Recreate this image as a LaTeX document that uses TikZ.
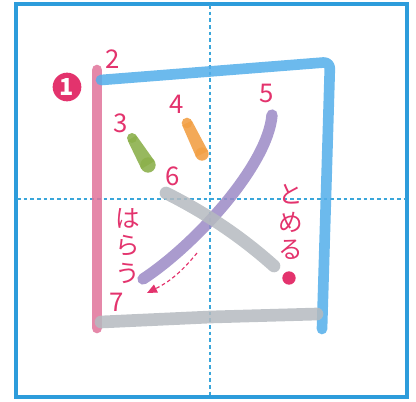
\documentclass[tikz,border=0pt]{standalone}
\usepackage{fontspec}
\setmainfont{Noto Sans CJK JP}
\usetikzlibrary{arrows.meta, calc}
\definecolor{cframe}{HTML}{2D9CDB}
\definecolor{cguide}{HTML}{3AA6DA}
\definecolor{cpink}{HTML}{E3336D}
\definecolor{cone}{HTML}{E0739A}
\definecolor{ctwo}{HTML}{52AEEA}
\definecolor{cgreen}{HTML}{8CB04C}
\definecolor{corange}{HTML}{F2A046}
\definecolor{cpurple}{HTML}{9B8AC6}
\definecolor{cgrey}{HTML}{B5BABF}
\tikzset{
  brush/.style={draw=#1, line width=3.2mm, line cap=round, line join=round, opacity=0.85},
  num/.style={text=cpink, inner sep=0pt, font=\fontsize{22}{22}\selectfont},
  kana/.style={text=cpink, inner sep=0pt, align=center, font=\fontsize{21}{23.5}\selectfont},
  guide/.style={draw=cguide, line width=0.4mm, dash pattern=on 1.1mm off 0.9mm},
}

\begin{document}
\begin{tikzpicture}[x=0.3mm, y=-0.3mm,
  drop/.style={fill=#1, opacity=0.9}]
  \useasboundingbox (0,0) rectangle (416,401);
  % frame and guide lines
  \draw[cframe, line width=1mm] (16,4) rectangle (407,397);
  \draw[guide] (210,5) -- (210,396);
  \draw[guide] (17,199) -- (406,199);
  % strokes
  \draw[brush=cone] (97,70) -- (97,328);
  \draw[brush=ctwo, rounded corners=2mm] (101,80) -- (330,62) -- (322,329);
  \coordinate (g1) at (132,138); \coordinate (g2) at (148,165);
  \fill[drop=cgreen] ($(g1)!1.5mm!90:(g2)$) -- ($(g2)!2.3mm!-90:(g1)$) -- ($(g2)!2.3mm!90:(g1)$) -- ($(g1)!1.5mm!-90:(g2)$) -- cycle;
  \fill[drop=cgreen] (g1) circle (1.5mm) (g2) circle (2.3mm);
  \coordinate (o1) at (187,123); \coordinate (o2) at (202,154);
  \fill[drop=corange] ($(o1)!1.6mm!90:(o2)$) -- ($(o2)!2mm!-90:(o1)$) -- ($(o2)!2mm!90:(o1)$) -- ($(o1)!1.6mm!-90:(o2)$) -- cycle;
  \fill[drop=corange] (o1) circle (1.6mm) (o2) circle (2mm);
  \draw[brush=cpurple, line width=3.4mm] (272,115) .. controls (268,165) and (195,245) .. (143,279);
  \draw[brush=cgrey, line width=3.8mm] (166,193) .. controls (210,215) and (245,240) .. (274,266);
  \draw[brush=cgrey, line width=3.8mm] (101,322) -- (210,317) -- (317,314);
  % labels
  \node[circle, fill=cpink, minimum size=8.6mm, inner sep=0pt, text=white, font=\fontsize{20}{20}\selectfont\bfseries] (first) at (67,87) {1};
  \node[num] (n2) at (113,59) {2};
  \node[num] (n3) at (121,123) {3};
  \node[num] (n4) at (177,104) {4};
  \node[num] (n5) at (267,93) {5};
  \node[num] (n6) at (173,176) {6};
  \node[num] (n7) at (117,302) {7};
  \node[kana] (harau) at (128,246) {は\\ら\\う};
  \node[kana] (tomeru) at (291,222) {と\\め\\る};
  \node[circle, fill=cpink, minimum size=4mm, inner sep=0pt] (dot) at (289,278) {};
  \coordinate (from) at (197,253); \coordinate (to) at (147,293);
  \draw[cpink, line width=0.35mm, dash pattern=on 1.1mm off 0.8mm, -{Triangle[length=3mm, width=2.6mm]}] (from) to[bend left=12] (to);
\end{tikzpicture}
\end{document}
